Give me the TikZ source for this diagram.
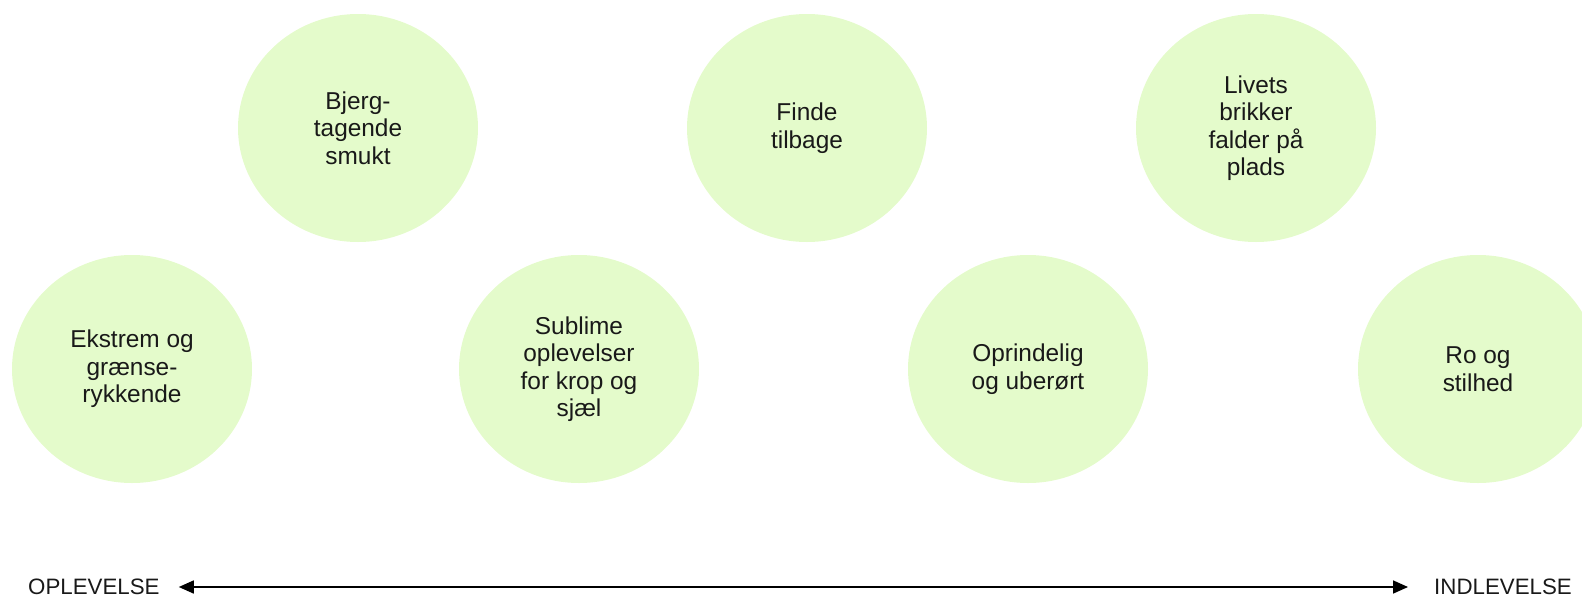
\documentclass[tikz,border=0pt]{standalone}
\usepackage{fontspec}
\setmainfont{Liberation Sans}
\usetikzlibrary{shapes.geometric,arrows.meta}
\definecolor{blobgreen}{RGB}{228,251,203}
\definecolor{inktext}{RGB}{25,25,25}
\begin{document}
\begin{tikzpicture}[x=1pt,y=-1pt,
    blob/.style={ellipse, fill=blobgreen, draw=none, minimum width=240pt, minimum height=228pt,
      inner sep=0pt, outer sep=0pt, align=center, text=inktext, font=\fontsize{24.4}{27.5}\selectfont},
    axislabel/.style={inner sep=0pt, text=inktext, font=\fontsize{22.3}{26}\selectfont}]
    \useasboundingbox (0,0) rectangle (1582,600);
    \clip (0,0) rectangle (1582,600);

    % 上段の円
    \node[blob] (bjerg) at (358,128) {Bjerg-\\tagende\\smukt};
    \node[blob] (finde) at (807,128) {Finde\\tilbage};
    \node[blob] (livets) at (1256,128) {Livets\\brikker\\falder på\\plads};

    % 下段の円
    \node[blob] (ekstrem) at (132,369) {Ekstrem og\\grænse-\\rykkende};
    \node[blob] (sublime) at (579,369) {Sublime\\oplevelser\\for krop og\\sjæl};
    \node[blob] (oprindelig) at (1028,369) {Oprindelig\\og uberørt};
    \node[blob] (ro) at (1478,369) {Ro og\\stilhed};

    % 軸
    \node[axislabel, anchor=west] (opl) at (28,587) {OPLEVELSE};
    \node[axislabel, anchor=east] (indl) at (1572,587) {INDLEVELSE};
    \draw[{Triangle[length=15pt,width=13pt]}-{Triangle[length=15pt,width=13pt]}, line width=1.6pt,
      shorten <=19pt, shorten >=26pt] (opl.east) -- (indl.west);
  \end{tikzpicture}
\end{document}
